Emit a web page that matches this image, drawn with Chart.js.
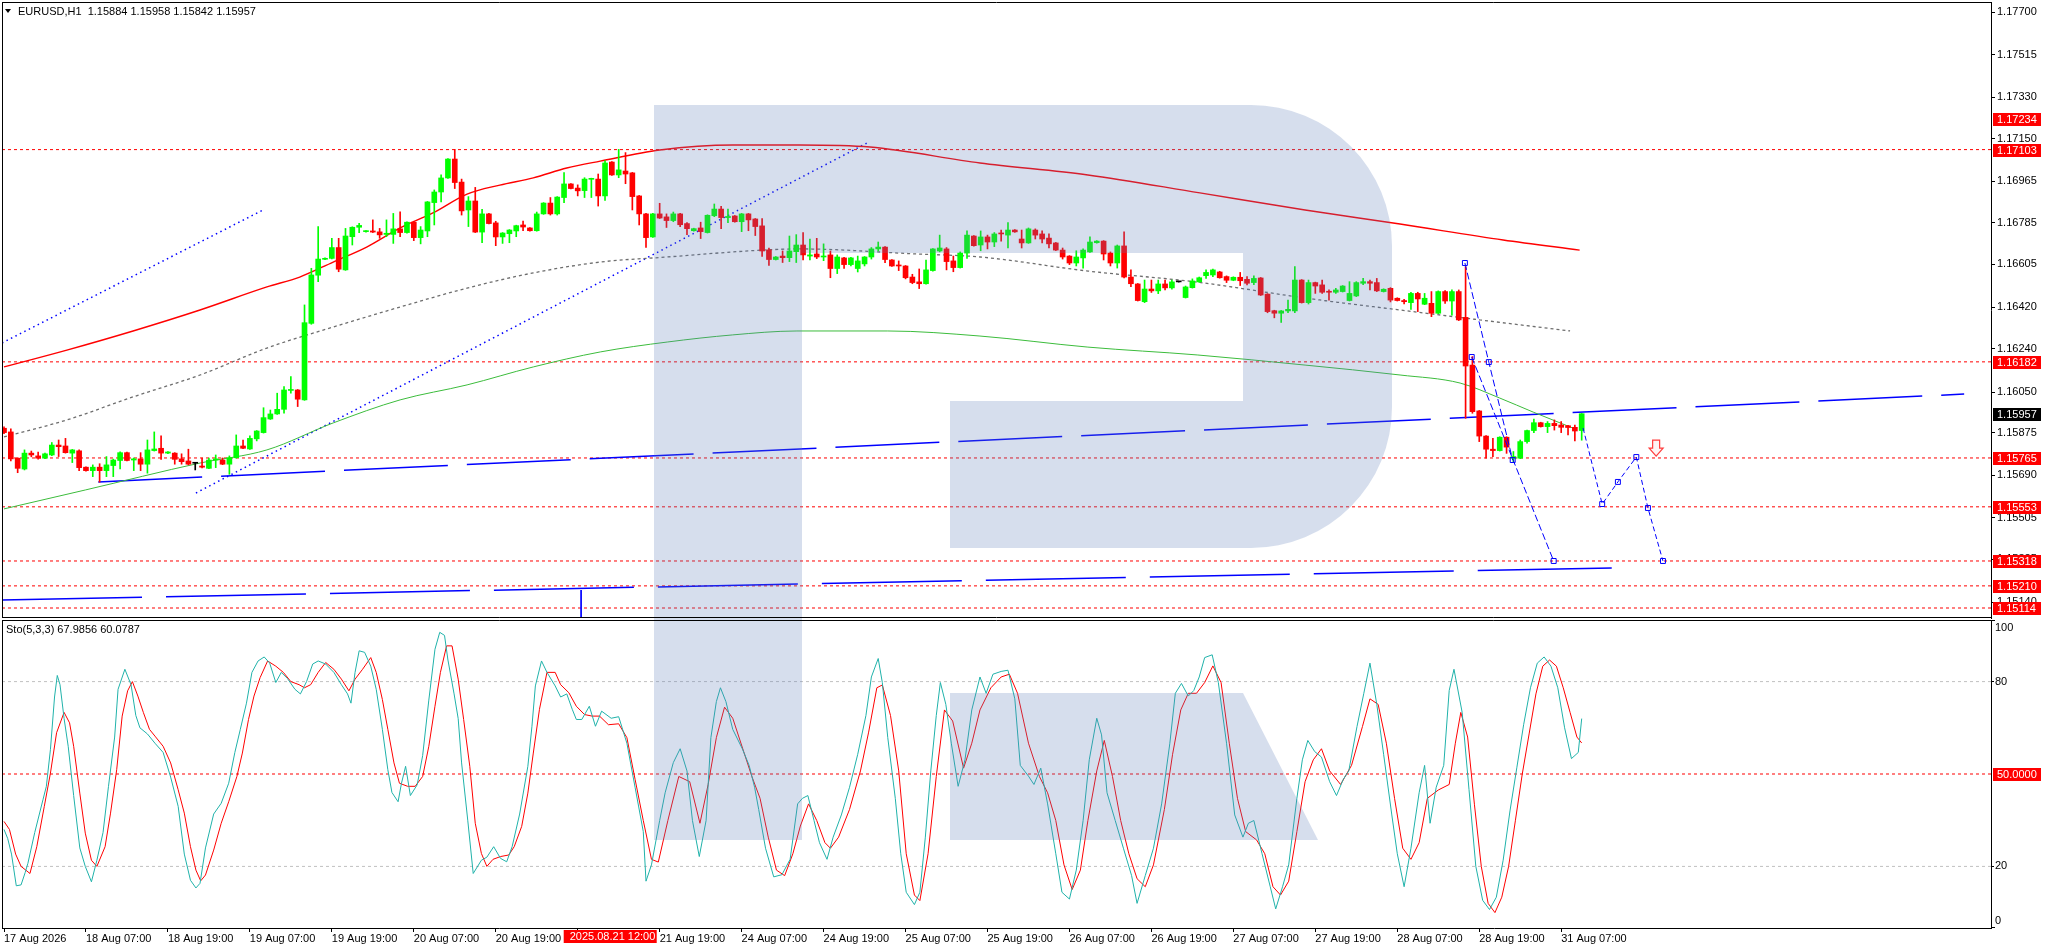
<!DOCTYPE html>
<html><head><meta charset="utf-8">
<script src="https://cdn.jsdelivr.net/npm/chart.js@4.4.1/dist/chart.umd.min.js"></script>
<style>
html,body{margin:0;padding:0;background:#fff;overflow:hidden;width:2046px;height:948px}
#main{position:absolute;left:0;top:0}
#stoch{position:absolute;left:0;top:619px}
</style></head><body>
<canvas id="main" width="2046" height="619"></canvas>
<canvas id="stoch" width="2046" height="329"></canvas>
<script>
// ---------------- DATA ----------------
const symbolTitle = 'EURUSD,H1';
const candleOpen = [1.15894,1.15878,1.15764,1.15717,1.15786,1.15774,1.15764,1.15778,1.15821,1.15817,1.15786,1.15796,1.15725,1.15710,1.15725,1.15710,1.15732,1.15754,1.15788,1.15756,1.15761,1.15738,1.15797,1.15807,1.15786,1.15786,1.15761,1.15752,1.15742,1.15730,1.15720,1.15756,1.15756,1.15738,1.15766,1.15817,1.15804,1.15848,1.15875,1.15934,1.15956,1.15976,1.16058,1.16060,1.16017,1.16349,1.16558,1.16627,1.16631,1.16678,1.16581,1.16725,1.16766,1.16747,1.16750,1.16746,1.16735,1.16735,1.16759,1.16743,1.16788,1.16721,1.16750,1.16873,1.16919,1.16980,1.17062,1.16962,1.16841,1.16880,1.16745,1.16824,1.16785,1.16724,1.16738,1.16750,1.16776,1.16763,1.16751,1.16824,1.16871,1.16824,1.16895,1.16954,1.16936,1.16925,1.16974,1.16975,1.16902,1.17049,1.16993,1.17010,1.17002,1.16902,1.16824,1.16724,1.16824,1.16811,1.16795,1.16824,1.16782,1.16751,1.16763,1.16743,1.16816,1.16845,1.16808,1.16815,1.16790,1.16824,1.16802,1.16772,1.16668,1.16626,1.16641,1.16634,1.16660,1.16689,1.16641,1.16650,1.16637,1.16646,1.16587,1.16633,1.16604,1.16587,1.16607,1.16637,1.16672,1.16680,1.16624,1.16602,1.16598,1.16550,1.16529,1.16521,1.16578,1.16663,1.16672,1.16620,1.16591,1.16654,1.16728,1.16689,1.16724,1.16702,1.16741,1.16732,1.16754,1.16715,1.16698,1.16754,1.16737,1.16719,1.16698,1.16667,1.16641,1.16611,1.16633,1.16659,1.16699,1.16706,1.16654,1.16611,1.16685,1.16550,1.16520,1.16443,1.16498,1.16490,1.16520,1.16503,1.16529,1.16461,1.16504,1.16529,1.16556,1.16559,1.16572,1.16552,1.16536,1.16549,1.16540,1.16526,1.16546,1.16476,1.16404,1.16393,1.16403,1.16403,1.16537,1.16439,1.16526,1.16516,1.16487,1.16484,1.16487,1.16448,1.16468,1.16523,1.16530,1.16526,1.16487,1.16501,1.16458,1.16448,1.16439,1.16479,1.16432,1.16436,1.16393,1.16487,1.16446,1.16487,1.16375,1.16168,1.15969,1.15860,1.15803,1.15797,1.15855,1.15764,1.15764,1.15836,1.15884,1.15918,1.15901,1.15915,1.15908,1.15905,1.15898,1.15884];
const candleHigh = [1.15900,1.15891,1.15766,1.15800,1.15795,1.15790,1.15786,1.15832,1.15843,1.15850,1.15802,1.15800,1.15727,1.15735,1.15740,1.15771,1.15760,1.15792,1.15790,1.15765,1.15788,1.15843,1.15878,1.15861,1.15793,1.15788,1.15783,1.15803,1.15745,1.15764,1.15764,1.15778,1.15765,1.15774,1.15865,1.15843,1.15861,1.15884,1.15983,1.15973,1.16046,1.16075,1.16118,1.16062,1.16429,1.16588,1.16769,1.16633,1.16718,1.16718,1.16761,1.16768,1.16783,1.16752,1.16798,1.16761,1.16798,1.16826,1.16833,1.16790,1.16792,1.16769,1.16878,1.16928,1.16993,1.17064,1.17104,1.16975,1.16899,1.16939,1.16844,1.16826,1.16792,1.16743,1.16756,1.16775,1.16793,1.16765,1.16832,1.16873,1.16895,1.16899,1.17003,1.16956,1.16950,1.16981,1.16979,1.16997,1.17054,1.17051,1.17104,1.17090,1.17004,1.16904,1.16826,1.16826,1.16870,1.16824,1.16832,1.16826,1.16786,1.16762,1.16788,1.16820,1.16867,1.16857,1.16845,1.16817,1.16826,1.16826,1.16804,1.16804,1.16676,1.16639,1.16663,1.16728,1.16734,1.16743,1.16715,1.16718,1.16694,1.16663,1.16646,1.16635,1.16635,1.16641,1.16639,1.16678,1.16702,1.16682,1.16626,1.16620,1.16600,1.16562,1.16585,1.16624,1.16674,1.16732,1.16678,1.16641,1.16659,1.16750,1.16730,1.16750,1.16732,1.16743,1.16754,1.16786,1.16756,1.16754,1.16763,1.16759,1.16750,1.16737,1.16700,1.16676,1.16643,1.16664,1.16672,1.16724,1.16708,1.16708,1.16659,1.16689,1.16746,1.16581,1.16522,1.16537,1.16537,1.16537,1.16537,1.16537,1.16530,1.16511,1.16542,1.16550,1.16581,1.16585,1.16575,1.16555,1.16551,1.16570,1.16552,1.16555,1.16548,1.16478,1.16406,1.16405,1.16450,1.16595,1.16539,1.16537,1.16528,1.16537,1.16494,1.16501,1.16513,1.16530,1.16530,1.16544,1.16537,1.16544,1.16499,1.16504,1.16460,1.16453,1.16484,1.16484,1.16479,1.16487,1.16490,1.16491,1.16494,1.16494,1.16595,1.16205,1.15971,1.15862,1.15850,1.15857,1.15857,1.15793,1.15843,1.15886,1.15934,1.15920,1.15923,1.15930,1.15923,1.15907,1.15908,1.15958];
const candleLow = [1.15870,1.15752,1.15701,1.15713,1.15770,1.15760,1.15762,1.15775,1.15771,1.15786,1.15745,1.15710,1.15708,1.15684,1.15660,1.15684,1.15684,1.15717,1.15752,1.15710,1.15710,1.15699,1.15795,1.15759,1.15784,1.15738,1.15738,1.15735,1.15713,1.15722,1.15718,1.15723,1.15736,1.15694,1.15764,1.15805,1.15802,1.15839,1.15873,1.15932,1.15954,1.15959,1.16046,1.15988,1.16015,1.16345,1.16530,1.16625,1.16629,1.16573,1.16579,1.16689,1.16743,1.16745,1.16743,1.16718,1.16725,1.16696,1.16725,1.16740,1.16708,1.16694,1.16725,1.16776,1.16876,1.16978,1.16934,1.16819,1.16769,1.16743,1.16699,1.16780,1.16686,1.16696,1.16699,1.16725,1.16751,1.16749,1.16749,1.16822,1.16819,1.16819,1.16873,1.16932,1.16902,1.16895,1.16895,1.16858,1.16882,1.16991,1.16981,1.16955,1.16841,1.16776,1.16678,1.16722,1.16804,1.16765,1.16790,1.16769,1.16734,1.16749,1.16717,1.16741,1.16812,1.16760,1.16786,1.16788,1.16747,1.16751,1.16730,1.16639,1.16600,1.16624,1.16613,1.16617,1.16613,1.16624,1.16624,1.16630,1.16621,1.16547,1.16565,1.16587,1.16598,1.16572,1.16598,1.16628,1.16663,1.16612,1.16596,1.16578,1.16542,1.16521,1.16500,1.16519,1.16576,1.16659,1.16581,1.16573,1.16589,1.16631,1.16684,1.16664,1.16672,1.16682,1.16706,1.16676,1.16744,1.16676,1.16696,1.16715,1.16698,1.16676,1.16665,1.16628,1.16604,1.16598,1.16589,1.16657,1.16697,1.16624,1.16598,1.16589,1.16546,1.16508,1.16446,1.16439,1.16483,1.16478,1.16494,1.16497,1.16528,1.16459,1.16502,1.16527,1.16544,1.16552,1.16545,1.16526,1.16534,1.16513,1.16516,1.16517,1.16470,1.16395,1.16373,1.16353,1.16395,1.16395,1.16437,1.16433,1.16479,1.16479,1.16450,1.16479,1.16485,1.16446,1.16465,1.16517,1.16494,1.16487,1.16485,1.16442,1.16446,1.16433,1.16410,1.16400,1.16430,1.16378,1.16391,1.16436,1.16385,1.16361,1.15937,1.15959,1.15836,1.15764,1.15771,1.15795,1.15785,1.15749,1.15762,1.15829,1.15875,1.15899,1.15875,1.15886,1.15875,1.15865,1.15839,1.15842];
const candleClose = [1.15875,1.15761,1.15720,1.15786,1.15778,1.15764,1.15783,1.15821,1.15814,1.15788,1.15800,1.15723,1.15710,1.15725,1.15710,1.15735,1.15756,1.15788,1.15754,1.15761,1.15738,1.15800,1.15804,1.15786,1.15791,1.15759,1.15749,1.15738,1.15742,1.15725,1.15756,1.15761,1.15738,1.15766,1.15817,1.15807,1.15850,1.15882,1.15940,1.15956,1.15976,1.16060,1.16062,1.16020,1.16352,1.16559,1.16628,1.16631,1.16678,1.16584,1.16728,1.16766,1.16774,1.16750,1.16745,1.16733,1.16740,1.16759,1.16743,1.16788,1.16721,1.16754,1.16876,1.16919,1.16980,1.17062,1.16960,1.16837,1.16880,1.16745,1.16824,1.16782,1.16724,1.16741,1.16754,1.16773,1.16767,1.16751,1.16824,1.16871,1.16824,1.16897,1.16954,1.16934,1.16924,1.16975,1.16977,1.16902,1.17045,1.16993,1.17015,1.16997,1.16899,1.16824,1.16721,1.16824,1.16806,1.16795,1.16824,1.16777,1.16760,1.16760,1.16747,1.16818,1.16845,1.16808,1.16813,1.16790,1.16824,1.16798,1.16769,1.16663,1.16626,1.16637,1.16634,1.16663,1.16689,1.16646,1.16646,1.16637,1.16641,1.16587,1.16637,1.16604,1.16633,1.16620,1.16637,1.16672,1.16680,1.16626,1.16598,1.16598,1.16547,1.16526,1.16521,1.16581,1.16672,1.16676,1.16617,1.16591,1.16654,1.16732,1.16686,1.16724,1.16702,1.16737,1.16737,1.16754,1.16746,1.16698,1.16759,1.16732,1.16715,1.16694,1.16667,1.16637,1.16611,1.16637,1.16667,1.16702,1.16706,1.16650,1.16611,1.16685,1.16550,1.16521,1.16448,1.16498,1.16490,1.16520,1.16503,1.16529,1.16529,1.16507,1.16533,1.16547,1.16570,1.16581,1.16547,1.16536,1.16549,1.16534,1.16523,1.16544,1.16472,1.16400,1.16393,1.16403,1.16410,1.16537,1.16439,1.16526,1.16511,1.16484,1.16484,1.16494,1.16511,1.16479,1.16526,1.16530,1.16523,1.16490,1.16497,1.16450,1.16448,1.16443,1.16479,1.16455,1.16458,1.16393,1.16487,1.16446,1.16487,1.16364,1.16164,1.15966,1.15860,1.15803,1.15797,1.15855,1.15812,1.15771,1.15836,1.15884,1.15918,1.15901,1.15915,1.15905,1.15898,1.15897,1.15882,1.15957];

const xTickLabels = ['17 Aug 2026','18 Aug 07:00','18 Aug 19:00','19 Aug 07:00','19 Aug 19:00','20 Aug 07:00','20 Aug 19:00','21 Aug 07:00','21 Aug 19:00','24 Aug 07:00','24 Aug 19:00','25 Aug 07:00','25 Aug 19:00','26 Aug 07:00','26 Aug 19:00','27 Aug 07:00','27 Aug 19:00','28 Aug 07:00','28 Aug 19:00','31 Aug 07:00'];
const xTickStep = 12;
const highlightTime = '2025.08.21 12:00';
const highlightBar = 84;

const priceTicks = [1.17700,1.17515,1.17330,1.17150,1.16965,1.16785,1.16605,1.16420,1.16240,1.16050,1.15875,1.15690,1.15505,1.15325,1.15140];
const levelLines = [1.17103,1.16182,1.15765,1.15553,1.15318,1.15210,1.15114];
const levelTags = [1.17234,1.17103,1.16182,1.15765,1.15553,1.15318,1.15210,1.15114];
const lastPrice = 1.15957;

const redCurve = [[0,1.16160],[9.2,1.16233],[18.9,1.16316],[28.7,1.16407],[38.5,1.16507],[43.3,1.16550],[48.2,1.16615],[53.1,1.16680],[58,1.16763],[62.8,1.16828],[67.8,1.16910],[72.6,1.16949],[77.5,1.16980],[82.4,1.17023],[87.3,1.17053],[96,1.17101],[106.7,1.17123],[116.5,1.17123],[126.8,1.17114],[142.9,1.17045],[158.7,1.16993],[175.1,1.16915],[190.5,1.16841],[204.4,1.16780],[219.5,1.16711],[230.7,1.16667]];
const grayCurve = [[0,1.15856],[9.2,1.15930],[18.9,1.16030],[28.7,1.16125],[38.5,1.16242],[48.2,1.16333],[58,1.16420],[67.8,1.16502],[77.5,1.16568],[87.3,1.16615],[97.1,1.16637],[111.1,1.16667],[116.5,1.16672],[133.7,1.16650],[142.9,1.16637],[158.7,1.16576],[174.7,1.16528],[190.5,1.16459],[204.4,1.16407],[216.1,1.16364],[229.3,1.16316]];
const greenCurve = [[0,1.15544],[11.9,1.15626],[28.7,1.15743],[38.5,1.15800],[48.2,1.15917],[58,1.16017],[67.8,1.16082],[77.5,1.16160],[87.3,1.16225],[97.1,1.16268],[106.7,1.16299],[116.1,1.16316],[129.4,1.16316],[142.9,1.16294],[158.7,1.16246],[174.7,1.16212],[190.5,1.16168],[204.4,1.16125],[213.2,1.16090],[219,1.16025],[223.9,1.15964],[229.7,1.15895]];
const blueChannelUpper = [[-0.29,1.16264],[38.2,1.16845]];
const blueChannelLower = [[28.1,1.15613],[126.4,1.17132]];
const blueTrend = [[13.8,1.15661],[287,1.16042]];
const blueBase = [[-0.29,1.15149],[235.4,1.15288]];
const blueMarker = [[84.5,1.15192],[84.5,1.15071]];
const forecastA = [[213.9,1.16611],[217.4,1.16181],[220.9,1.15756]];
const forecastB = [[214.9,1.16203],[226.9,1.15318]];
const forecastPath = [[231.2,1.15895],[234.0,1.15565],[236.3,1.15661],[239.0,1.15769],[240.7,1.15548],[242.9,1.15318]];
const sellArrow = [241.9,1.15773];

const stochMain = [[0,32],[0.55,29],[1.1,24],[1.8,13.7],[2.5,14],[3.1,18],[3.5,21],[4.5,31],[5.7,41.6],[6.2,46],[6.8,58],[7.4,75],[7.8,82],[8.2,79],[8.8,68],[9.4,59],[10.2,43],[11.1,26],[11.9,20],[12.8,15],[13.6,22],[14.5,31],[15.3,46],[16.2,62],[16.7,77.5],[17.7,84],[18.6,79],[19.3,69],[19.9,65],[21,63],[22.1,60],[23.3,57],[24.4,49],[25.5,39.5],[26.4,24],[27.3,15.5],[28.1,13],[28.7,14.5],[29.5,26],[30.7,37],[31.8,40.5],[32.9,47],[33.8,57],[34.6,64.5],[35.5,73],[36.3,83],[37.2,86.7],[38.1,88],[38.9,86],[39.8,79.7],[40.6,83],[41.5,81],[42.6,77.5],[43.4,76],[44.3,80],[45.2,85.7],[46,86.7],[47.1,85.7],[48.3,83],[49.4,79],[50.3,76],[50.8,73],[51.4,83],[52,90],[52.8,89.5],[53.7,85],[54.5,77.5],[55.4,64.5],[56.2,51.4],[56.8,44],[57.7,41],[58.2,47],[58.8,52.5],[59.5,43],[60.5,46.5],[61.3,56],[62.2,74],[63.1,90.5],[63.8,96],[64.5,95],[65,87],[65.9,76],[66.5,68],[67,53.6],[67.9,35],[68.7,17.7],[69.9,22],[70.7,23],[71.7,26.4],[72.7,22.6],[73.6,21.5],[74.4,26.4],[75.5,37],[76.7,52.5],[77.3,65.5],[77.8,78.6],[78.7,86.7],[79.5,83],[80.7,78.6],[81.5,75],[82.4,76],[83.2,71],[83.8,67.7],[84.6,67.7],[85.7,72],[86.6,65.5],[87.5,70.4],[88.9,68.1],[90,68.6],[91.2,60],[92.4,45.7],[93.6,31.3],[94,15.2],[94.8,20.5],[96,34.9],[96.8,43.9],[98,53.7],[99,58.2],[100,51],[100.8,34.9],[101.8,23.2],[102.8,34.9],[103.5,61.8],[104.3,73.5],[104.9,78],[105.7,73.5],[106.7,64.5],[108.1,58.2],[109.1,52.8],[109.9,45.7],[110.5,38.5],[111.5,25.9],[112.7,16.6],[113.9,17.3],[115.1,22.3],[116.2,40.3],[116.9,42.1],[117.7,43],[118.6,34.9],[119.4,27.7],[120.5,22.3],[121.4,29.5],[122.6,36.7],[123.8,45.7],[125,56.4],[126.2,69],[127,81.5],[128,87.5],[128.6,79.7],[129.4,61.8],[130.5,42.1],[131.3,24.1],[132.1,11.6],[133.3,7.6],[134.1,11.6],[134.9,29.5],[135.7,51],[136.5,69],[137.1,79.7],[137.9,72.6],[138.7,60],[139.7,46],[140.7,54.6],[141.7,70.8],[142.9,81.5],[143.8,76.2],[144.8,82.4],[146,83.3],[147,83.7],[148,74.4],[148.8,52.8],[150,49.3],[150.8,46.6],[151.8,51.9],[152.8,40.3],[154,24.1],[154.9,11.6],[156,9.4],[157,18.8],[158,34.9],[158.9,54.6],[160,68.1],[160.7,62.7],[161.5,43.9],[162.7,34.9],[163.9,25.9],[165.1,17],[165.9,8],[167.1,17],[168.3,25.9],[169.5,40.3],[170.7,60],[171.5,76.2],[172.4,79.4],[173.4,75.3],[174.2,77.1],[175,81.5],[175.8,87.8],[176.9,88.7],[177.8,79.7],[179,60],[180.2,36.7],[181.4,29.5],[182.2,34],[183,34.9],[184.2,24.1],[185.4,13.4],[186.2,6.2],[187.2,13.4],[188.1,20.5],[189.3,42.1],[190.1,54.6],[190.9,60.9],[191.9,57.3],[192.9,55.5],[194.1,47.5],[195.1,43],[196.1,48.3],[196.9,51],[198.1,65.4],[199.1,76.2],[200,86],[201,72.6],[202,56.4],[203.2,36.7],[204,24.1],[205,13.4],[206,25.9],[207.2,43.9],[208,52.8],[208.8,34],[209.7,45.7],[210.8,52.8],[211.6,77.1],[212.3,84],[213.5,70],[214.5,45],[215.5,20],[216.5,9],[217.5,6],[218.5,10],[219.5,22],[220.5,38],[221.5,52],[222.5,66],[223.5,78],[224.5,86],[225.5,88],[226.5,85],[227.5,78],[228.5,65],[229.5,55],[230.5,57],[231,67.99]];
const stochSignal = [[0,34.6],[0.8,32],[1.7,24],[2.5,20],[3.8,17.7],[4.8,26.4],[5.9,39.5],[6.8,50.3],[7.7,63.4],[8.8,70],[9.6,66.6],[10.2,59],[11.1,43.8],[11.9,30.8],[12.8,22],[13.6,20],[14.8,26.4],[15.6,37.3],[16.5,51.4],[17.3,68.8],[18.1,77],[18.8,80],[19.6,75.3],[20.4,70],[21.3,64.5],[22.1,62.3],[23.3,59],[24.4,53.6],[25.5,44.9],[26.4,37.3],[27.3,26.4],[28.1,18.8],[28.8,15.3],[29.5,17.2],[30.7,25.3],[31.8,34],[32.9,41],[34.1,49.2],[34.9,56.8],[35.8,67.7],[36.6,75.3],[37.5,81.3],[38.6,86.7],[39.8,85],[40.9,83],[42,80],[43.2,79],[44,78],[44.9,79],[46,83],[47.1,86.2],[48.3,84],[49.4,80.8],[50.5,77],[51.4,80.8],[52.5,84],[53.7,87.8],[54.5,83],[55.4,74.2],[56.2,64.5],[57.1,53.6],[57.9,47],[59.1,46],[60.2,46],[61.3,49.2],[62.2,59],[63.1,72],[63.9,83],[64.8,91.6],[65.6,91.6],[66.5,80.8],[67.3,67.7],[68.2,52.5],[69,34],[69.9,24.2],[70.7,20],[71.6,22.3],[72.7,23.2],[73.9,23.7],[74.7,26.4],[75.8,33],[76.7,43.8],[77.5,56.8],[78.4,71],[79.5,83],[80.7,83],[81.5,79],[82.7,76.4],[83.8,72],[85,69.3],[86.1,68.8],[87.2,68.8],[88.5,66],[90,66.3],[91.2,61.8],[92.4,48.3],[93.6,34.9],[94.8,22.3],[95.8,21.4],[97.2,34.9],[98.8,49.2],[100.4,47.5],[101.9,34],[103.1,46.6],[104.3,61.8],[105.5,71.7],[106.7,68.1],[108.3,57.3],[109.5,49.2],[110.7,42.1],[111.9,29.5],[113.1,18.8],[114.3,17],[115.5,24.1],[116.6,33.1],[117.8,40.3],[119,34.9],[120.2,27.7],[121,25.9],[122.2,29.5],[123.8,38.5],[125.4,51],[126.6,63.6],[127.8,78],[128.6,78.9],[129.8,69],[131,51],[132.1,24.1],[133.3,10.7],[134.1,8.9],[135.3,24.1],[136.5,49.2],[137.7,70.8],[138.9,67.2],[140.5,51.9],[141.7,60],[142.9,70.8],[144.5,78],[146,81.5],[147.2,82.4],[148.4,76.2],[150,60],[151.6,49.2],[152.8,43.9],[154,34.9],[155.2,20.5],[156.4,12.5],[157.6,18.8],[158.7,34.9],[160,51],[161.1,60.9],[162.3,49.2],[163.5,34.9],[164.7,24.1],[165.9,16],[167.1,13.4],[168.3,20.5],[169.9,38.5],[171.1,56.4],[172.3,70.8],[173.4,76.2],[174.6,76.2],[175.8,79.7],[177,85.1],[178.2,79.7],[179.4,60],[180.6,42.1],[181.8,31.3],[183.4,28.6],[184.6,24.1],[185.8,13.4],[186.9,10.7],[188.1,15.2],[189.3,31.3],[190.5,47.5],[191.7,54.6],[192.9,58.2],[194.1,51],[195.7,46.6],[197.3,52.8],[198.9,65.4],[200,74.4],[201.2,72.6],[202.4,60],[203.6,42.1],[204.8,25.9],[206,22.3],[207.2,27.7],[208.4,42.1],[210,44.8],[211.6,46.6],[212.5,60],[213.3,70],[214.3,62],[215.3,40],[216.3,20],[217.3,8],[218.3,5],[219.3,10],[220.3,20],[221.3,35],[222.3,50],[223.3,63],[224.3,76],[225.3,85],[226.3,87],[227.3,85],[228.3,78],[229.3,70],[230.3,62],[231,60.08]];
const stochLast = [67.9856, 60.0787];
const stochGrayLevels = [80, 20];
const stochRedLevel = 50;
const stochTicks = [20, 80];

// ---------------- SETUP ----------------
const FONT = '"Liberation Sans", Arial, sans-serif';
Chart.defaults.font.family = FONT;
Chart.defaults.font.size = 11;
Chart.defaults.color = '#000';
const X_MIN = -0.293, X_MAX = 290.93;
const Y_MIN = 1.150706, Y_MAX = 1.177434;
const pts = a => a.map(p => ({x: p[0], y: p[1]}));
const idx = candleOpen.map((_, i) => i);
const candleColor = idx.map(i => candleClose[i] > candleOpen[i] ? '#00ff00' : (candleClose[i] < candleOpen[i] ? '#ff0000' : '#000000'));
const lineDs = (data, color, extra) => Object.assign({type: 'line', data: pts(data), borderColor: color, borderWidth: 1, pointRadius: 0, fill: false, order: 10}, extra || {});
const noPad = s => { s.paddingTop = 0; s.paddingBottom = 0; s.paddingLeft = 0; s.paddingRight = 0; };

function drawWatermark(ctx, offY) {
  ctx.save();
  ctx.translate(0, -offY);
  ctx.fillStyle = 'rgba(91,125,185,0.25)';
  ctx.beginPath();
  ctx.moveTo(654, 105);
  ctx.lineTo(1251, 105);
  ctx.arc(1251, 246, 141, -Math.PI / 2, 0);
  ctx.lineTo(1392, 407);
  ctx.arc(1251, 407, 141, 0, Math.PI / 2);
  ctx.lineTo(950, 548);
  ctx.lineTo(950, 401);
  ctx.lineTo(1243, 401);
  ctx.lineTo(1243, 253);
  ctx.lineTo(802, 253);
  ctx.lineTo(802, 840);
  ctx.lineTo(654, 840);
  ctx.closePath();
  ctx.moveTo(950, 693);
  ctx.lineTo(1243, 693);
  ctx.lineTo(1318, 840);
  ctx.lineTo(950, 840);
  ctx.closePath();
  ctx.fill();
  ctx.restore();
}
function tag(ctx, y, text, bg) {
  const yy = Math.round(y);
  ctx.fillStyle = bg;
  ctx.fillRect(1993, yy - 6, 48, 13);
  ctx.fillStyle = '#fff';
  ctx.font = '11px ' + FONT;
  ctx.textBaseline = 'middle';
  ctx.textAlign = 'left';
  ctx.fillText(text, 1997, yy + 1);
}

const mainPlugin = {
  id: 'mainDecor',
  afterDatasetsDraw(chart) { drawWatermark(chart.ctx, 0); },
  afterDraw(chart) {
    const ctx = chart.ctx, xs = chart.scales.x, ys = chart.scales.y, a = chart.chartArea;
    ctx.save();
    ctx.strokeStyle = '#000'; ctx.lineWidth = 1;
    ctx.beginPath();
    ctx.moveTo(2.5, 2); ctx.lineTo(2.5, 618);
    ctx.moveTo(2, 2.5); ctx.lineTo(a.right, 2.5);
    ctx.moveTo(2, 617.5); ctx.lineTo(a.right, 617.5);
    ctx.stroke();
    // sell arrow
    const ax = xs.getPixelForValue(sellArrow[0]), ay = ys.getPixelForValue(sellArrow[1]);
    ctx.beginPath();
    ctx.moveTo(ax - 3.5, ay - 16); ctx.lineTo(ax + 3.5, ay - 16); ctx.lineTo(ax + 3.5, ay - 8);
    ctx.lineTo(ax + 7, ay - 8); ctx.lineTo(ax, ay); ctx.lineTo(ax - 7, ay - 8); ctx.lineTo(ax - 3.5, ay - 8);
    ctx.closePath();
    ctx.fillStyle = '#fff4f4'; ctx.fill();
    ctx.strokeStyle = '#ff3c3c'; ctx.lineWidth = 1.2; ctx.stroke();
    // header
    ctx.fillStyle = '#000';
    ctx.beginPath(); ctx.moveTo(5, 9); ctx.lineTo(11, 9); ctx.lineTo(8, 13); ctx.closePath(); ctx.fill();
    const n = candleOpen.length - 1;
    ctx.font = '11px ' + FONT; ctx.textBaseline = 'middle'; ctx.textAlign = 'left';
    ctx.fillText(symbolTitle + '  ' + [candleOpen[n], candleHigh[n], candleLow[n], candleClose[n]].map(v => v.toFixed(5)).join(' '), 18, 12);
    // price tags
    levelTags.forEach(v => tag(ctx, ys.getPixelForValue(v), v.toFixed(5), '#ff0000'));
    tag(ctx, ys.getPixelForValue(lastPrice), lastPrice.toFixed(5), '#000000');
    ctx.restore();
  }
};

const mainDatasets = [];
levelLines.forEach(v => mainDatasets.push(lineDs([[X_MIN, v], [X_MAX, v]], '#ff0000', {borderDash: [3, 3], order: 20})));
mainDatasets.push(lineDs(greenCurve, '#3cbc3c', {cubicInterpolationMode: 'monotone'}));
mainDatasets.push(lineDs(grayCurve, '#6e6e6e', {borderDash: [3, 3], borderWidth: 1.3, cubicInterpolationMode: 'monotone'}));
mainDatasets.push(lineDs(redCurve, '#ff0000', {borderWidth: 1.4, cubicInterpolationMode: 'monotone'}));
mainDatasets.push(lineDs(blueChannelUpper, '#0000ff', {borderDash: [1.5, 3.5], borderWidth: 1.5}));
mainDatasets.push(lineDs(blueChannelLower, '#0000ff', {borderDash: [1.5, 3.5], borderWidth: 1.5}));
mainDatasets.push(lineDs(blueTrend, '#0000ff', {borderDash: [104, 19], borderWidth: 1.5}));
mainDatasets.push(lineDs(blueBase, '#0000ff', {borderDash: [140, 24], borderWidth: 1.5}));
mainDatasets.push(lineDs(blueMarker, '#0000ff', {borderWidth: 1}));
mainDatasets.push({type: 'bar', data: idx.map(i => ({x: i, y: [candleLow[i], candleHigh[i]]})), backgroundColor: candleColor, borderWidth: 0, barThickness: 1, grouped: false, order: 4});
mainDatasets.push({type: 'bar', data: idx.map(i => ({x: i, y: [candleOpen[i], candleClose[i]]})), backgroundColor: candleColor, borderWidth: 0, barThickness: 5, minBarLength: 1, grouped: false, order: 3});
const markerOpts = r => ({pointStyle: 'rect', pointRadius: r, pointBorderColor: '#0000ff', pointBackgroundColor: 'rgba(255,255,255,0)', pointBorderWidth: 1, order: 1});
mainDatasets.push(lineDs(forecastA, '#0000ff', Object.assign(markerOpts([3.5, 3.5, 3.5]), {borderDash: [7, 3]})));
mainDatasets.push(lineDs(forecastB, '#0000ff', Object.assign(markerOpts([3.5, 3.5]), {borderDash: [7, 3]})));
mainDatasets.push(lineDs(forecastPath, '#0000ff', Object.assign(markerOpts([0, 3.5, 3.5, 3.5, 3.5, 3.5]), {borderDash: [5, 3]})));

new Chart(document.getElementById('main'), {
  type: 'bar',
  data: {datasets: mainDatasets},
  options: {
    responsive: false, animation: false, devicePixelRatio: 1,
    layout: {padding: {left: 2, top: 2, right: 0, bottom: 1}, autoPadding: false},
    plugins: {legend: {display: false}, tooltip: {enabled: false}},
    scales: {
      x: {type: 'linear', min: X_MIN, max: X_MAX, offset: false, display: false, afterFit: noPad},
      y: {
        type: 'linear', position: 'right', min: Y_MIN, max: Y_MAX, beginAtZero: false,
        afterBuildTicks: s => { s.ticks = priceTicks.map(v => ({value: v})); },
        afterFit: s => { s.width = 55; noPad(s); },
        ticks: {callback: v => Number(v).toFixed(5), color: '#000', padding: 2, font: {size: 11}},
        grid: {drawOnChartArea: false, drawTicks: true, tickLength: 4, color: '#000'},
        border: {display: true, color: '#000'}
      }
    }
  },
  plugins: [mainPlugin]
});

// ---------------- STOCHASTIC ----------------
const stochPlugin = {
  id: 'stochDecor',
  afterDatasetsDraw(chart) { drawWatermark(chart.ctx, 619); },
  afterDraw(chart) {
    const ctx = chart.ctx, xs = chart.scales.x, ys = chart.scales.y, a = chart.chartArea;
    ctx.save();
    ctx.strokeStyle = '#000'; ctx.lineWidth = 1;
    ctx.beginPath();
    ctx.moveTo(2.5, a.top); ctx.lineTo(2.5, a.bottom);
    ctx.moveTo(2, a.top + 0.5); ctx.lineTo(a.right, a.top + 0.5);
    ctx.moveTo(a.right, a.top + 0.5); ctx.lineTo(a.right + 4, a.top + 0.5);
    ctx.moveTo(a.right, a.bottom - 0.5); ctx.lineTo(a.right + 4, a.bottom - 0.5);
    ctx.stroke();
    ctx.font = '11px ' + FONT; ctx.textBaseline = 'middle'; ctx.textAlign = 'left';
    ctx.fillStyle = '#000';
    ctx.fillText('Sto(5,3,3) ' + stochLast[0].toFixed(4) + ' ' + stochLast[1].toFixed(4), 6, 11);
    ctx.fillText('100', 1995, ys.getPixelForValue(100) + 8);
    ctx.fillText('0', 1995, ys.getPixelForValue(0) - 7);
    tag(ctx, ys.getPixelForValue(stochRedLevel), stochRedLevel.toFixed(4), '#ff0000');
    const hx = xs.getPixelForValue(highlightBar);
    ctx.fillStyle = '#ff0000';
    ctx.fillRect(hx - 14, a.bottom + 2, 93, 13);
    ctx.fillStyle = '#fff';
    ctx.fillText(highlightTime, hx - 8, a.bottom + 9);
    ctx.restore();
  }
};
const stochDatasets = [];
stochGrayLevels.forEach(v => stochDatasets.push(lineDs([[X_MIN, v], [X_MAX, v]], '#c0c0c0', {borderDash: [3, 3], order: 20})));
stochDatasets.push(lineDs([[X_MIN, stochRedLevel], [X_MAX, stochRedLevel]], '#ff0000', {borderDash: [3, 3], order: 20}));
stochDatasets.push(lineDs(stochSignal, '#ff0000', {order: 5}));
stochDatasets.push(lineDs(stochMain, '#20b2aa', {order: 4}));

new Chart(document.getElementById('stoch'), {
  type: 'line',
  data: {datasets: stochDatasets},
  options: {
    responsive: false, animation: false, devicePixelRatio: 1,
    layout: {padding: {left: 2, top: 1, right: 0, bottom: 0}, autoPadding: false},
    plugins: {legend: {display: false}, tooltip: {enabled: false}},
    scales: {
      x: {
        type: 'linear', min: X_MIN, max: X_MAX, offset: false,
        afterBuildTicks: s => { s.ticks = xTickLabels.map((_, k) => ({value: k * xTickStep})); },
        afterFit: s => { s.height = 20; noPad(s); },
        ticks: {
          autoSkip: false, maxRotation: 0, minRotation: 0, align: 'start', padding: 0, color: '#000', font: {size: 11},
          callback: v => { const k = Math.round(v / xTickStep); return k * xTickStep === highlightBar ? '' : xTickLabels[k]; }
        },
        grid: {drawOnChartArea: false, drawTicks: true, tickLength: 4, color: '#000'},
        border: {display: true, color: '#000'}
      },
      y: {
        type: 'linear', position: 'right', min: 0, max: 100,
        afterBuildTicks: s => { s.ticks = stochTicks.map(v => ({value: v})); },
        afterFit: s => { s.width = 55; noPad(s); },
        ticks: {callback: v => String(v), color: '#000', padding: 1, font: {size: 11}},
        grid: {drawOnChartArea: false, drawTicks: true, tickLength: 3, color: '#000'},
        border: {display: true, color: '#000'}
      }
    }
  },
  plugins: [stochPlugin]
});
</script>
</body></html>
